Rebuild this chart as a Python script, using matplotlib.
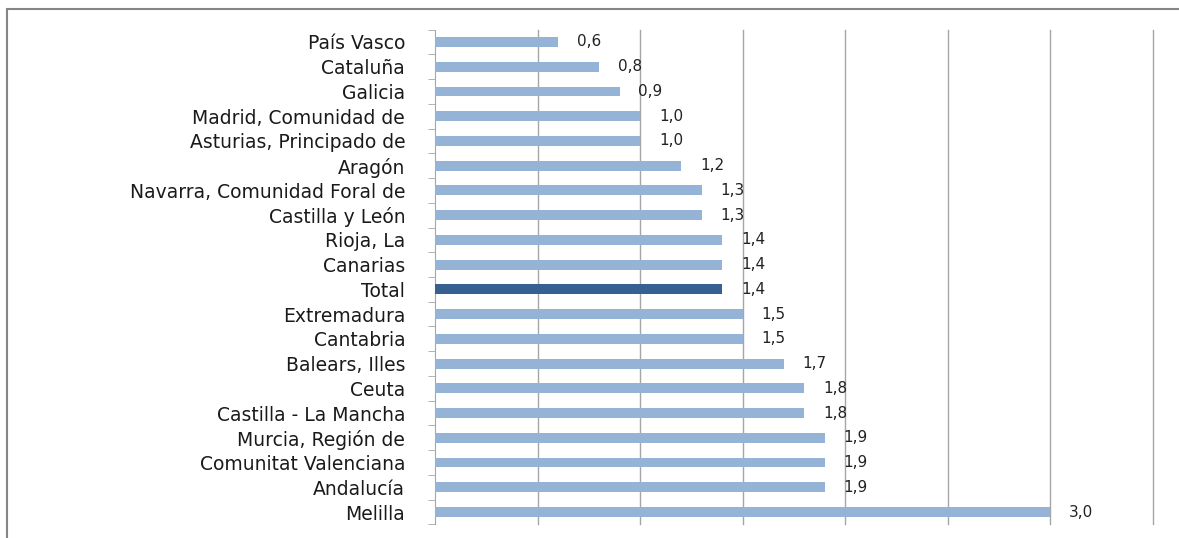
import matplotlib.pyplot as plt
import numpy as np
from matplotlib.patches import Rectangle

regions = ['País Vasco', 'Cataluña', 'Galicia', 'Madrid, Comunidad de',
           'Asturias, Principado de', 'Aragón', 'Navarra, Comunidad Foral de',
           'Castilla y León', 'Rioja, La', 'Canarias', 'Total', 'Extremadura',
           'Cantabria', 'Balears, Illes', 'Ceuta', 'Castilla - La Mancha',
           'Murcia, Región de', 'Comunitat Valenciana', 'Andalucía', 'Melilla']
values = [0.6, 0.8, 0.9, 1.0, 1.0, 1.2, 1.3, 1.3, 1.4, 1.4, 1.4, 1.5,
          1.5, 1.7, 1.8, 1.8, 1.9, 1.9, 1.9, 3.0]
value_labels = ['0,6', '0,8', '0,9', '1,0', '1,0', '1,2', '1,3', '1,3', '1,4', '1,4',
                '1,4', '1,5', '1,5', '1,7', '1,8', '1,8', '1,9', '1,9', '1,9', '3,0']

plt.rcParams['font.family'] = ['DejaVu Sans']

light = '#95B3D7'
dark = '#366092'
grid_col = '#A6A6A6'

fig = plt.figure(figsize=(11.79, 5.38), dpi=100)
ax = fig.add_axes([435 / 1179, 1 - 524.4 / 538, (1153 - 435) / 1179, (524.4 - 29.6) / 538])

y = np.arange(len(regions))
colors = [dark if r == 'Total' else light for r in regions]
ax.barh(y, values, height=0.4, color=colors, zorder=3)

for yi, v, lab in zip(y, values, value_labels):
    ax.annotate(lab, (v, yi), xytext=(13.5, 0), textcoords='offset points',
                va='center', ha='left', fontsize=11, color='#222222', zorder=4)

ax.set_xlim(0, 3.5)
ax.set_ylim(len(regions) - 0.5, -0.5)
ax.set_xticks(np.arange(0.5, 3.51, 0.5))
ax.tick_params(axis='x', length=0, labelbottom=False)
ax.grid(axis='x', color=grid_col, linewidth=1, zorder=0, clip_on=False)

ax.set_yticks(y)
ax.set_yticklabels(regions, fontsize=13.5, color='#1a1a1a')
ax.set_yticks(np.arange(-0.5, len(regions), 1), minor=True)
ax.tick_params(axis='y', which='major', length=0, pad=21.5)
ax.tick_params(axis='y', which='minor', length=5, color=grid_col, direction='out')

for s in ['top', 'right', 'bottom']:
    ax.spines[s].set_visible(False)
ax.spines['left'].set_color(grid_col)

fig.patches.append(Rectangle((7 / 1179, -0.1), 1.2, 1 - 9 / 538 + 0.1,
                             transform=fig.transFigure, fill=False,
                             edgecolor='#868686', linewidth=1.5))

fig.savefig('out.png', dpi=100)
